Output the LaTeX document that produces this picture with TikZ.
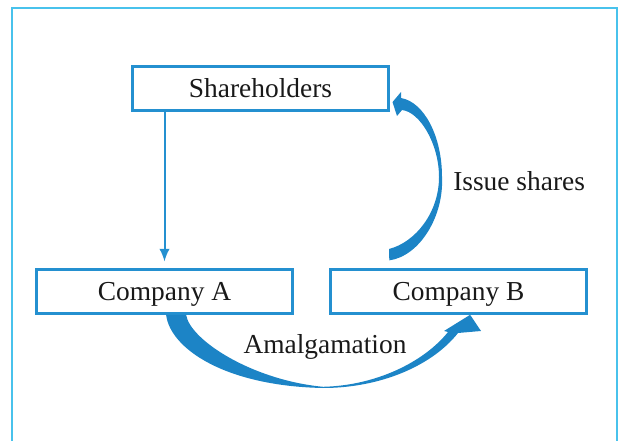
\documentclass[tikz,border=0pt]{standalone}
\usepackage{fontspec}
\setmainfont{Liberation Serif}
\usepackage{tikz}
\usetikzlibrary{arrows.meta}
\definecolor{boxblue}{RGB}{36,144,208}
\definecolor{arrowblue}{RGB}{28,132,198}
\definecolor{framecyan}{RGB}{72,194,236}
\tikzset{basic/.style={draw=boxblue,line width=0.08cm,fill=white,text=black!90,
                       text badly centered,inner sep=0pt,
                       font=\fontsize{19.5pt}{23pt}\selectfont,
                       text height=12.9pt,text depth=0pt}}
\tikzset{party/.style={basic,rectangle,minimum width=6.4cm,minimum height=1.1cm}}

\begin{document}
\begin{tikzpicture}[>={Latex[length=3.2mm,width=2.6mm]},
    % styles for clarity
    fat/.style  ={fill=arrowblue, draw=none},
    tag/.style  ={text=black!90, inner sep=0pt,
                  font=\fontsize{19.5pt}{23pt}\selectfont,
                  text height=12.9pt, text depth=0pt},
    link/.style ={->, draw=boxblue, line width=0.05cm}
  ]
  \useasboundingbox (0,0) rectangle (15.45,11);
  % outer frame, open at the bottom
  \draw[framecyan, line width=0.05cm] (0.3,-0.5) -- (0.3,10.8) -- (15.425,10.8) -- (15.425,-0.5);

  \node[party] (sh) at (6.5125,8.7875) {Shareholders};
  \node[party] (ca) at (4.1125,3.72)   {Company A};
  \node[party] (cb) at (11.4625,3.72)  {Company B};

  % shareholders down to company A
  \draw[link, shorten >=0.15cm] (sh.south -| ca.north) -- (ca.north);

  % amalgamation: company A round to company B
  \fill[fat] ([xshift=0.4mm]ca.south)
    .. controls (4.25,2.3) and (5.6,1.35) .. (8.075,1.3)
    .. controls (9.5,1.3) and (10.8,1.85) .. (11.45,2.675)
    -- (12.025,2.725) -- ([xshift=2.9mm]cb.south) -- (11.10,2.725) -- (11.2,2.70)
    .. controls (10.6,1.95) and (9.4,1.36) .. (8.075,1.33)
    .. controls (6.3,1.5) and (4.75,2.5) .. ([xshift=5.4mm]ca.south) -- cycle;
  \node[tag] (amal) at (8.125,2.4) {Amalgamation};

  % issue shares: company B back up to shareholders
  \fill[fat] ([shift={(15.1mm,1.8mm)}]cb.north west)
    .. controls (10.5,4.6) and (11.1,5.6) .. (11.05,6.575)
    .. controls (11.05,7.6) and (10.6,8.45) .. (10.025,8.55)
    -- (10.025,8.70) -- ([shift={(0.6mm,-3.4mm)}]sh.east) -- (9.925,8.10) -- (10.05,8.25)
    .. controls (10.5,8.2) and (10.975,7.4) .. (10.975,6.575)
    .. controls (10.975,5.7) and (10.4,4.95) .. (9.725,4.775) -- cycle;
  \node[tag, anchor=west] (iss) at (11.325,6.475) {Issue shares};
\end{tikzpicture}
\end{document}
